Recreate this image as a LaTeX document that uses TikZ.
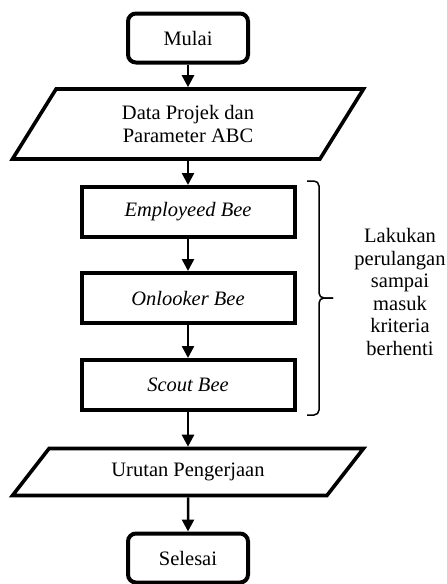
\documentclass[tikz,border=0pt]{standalone}
\usepackage{fontspec}
\setmainfont{Liberation Serif}
\usetikzlibrary{shapes.geometric,arrows.meta}

\tikzset{
  terminal/.style={draw, line width=4pt, rounded corners=8pt, minimum width=120pt, minimum height=49pt},
  io/.style={draw, line width=3.6pt, trapezium, trapezium stretches body, minimum width=351pt, align=center},
  process/.style={draw, line width=4pt, minimum width=213pt, minimum height=50pt},
  flow/.style={line width=2.5pt, -{Triangle[length=12pt,width=12pt]}},
}

\begin{document}
\begin{tikzpicture}[x=1pt, y=-1pt, every node/.style={font=\fontsize{20.5pt}{22.5pt}\selectfont}]
  \useasboundingbox (0,0) rectangle (447,584);
  \node[terminal] (mulai) at (188,38) {Mulai};
  \node[io, trapezium left angle=45, trapezium right angle=135, minimum height=70pt] (data) at (188,124) {Data Projek dan\\Parameter ABC};
  \node[process] (employed) at (188,212) {\textit{Employeed Bee}};
  \node[process] (onlooker) at (188,298) {\textit{Onlooker Bee}};
  \node[process] (scout) at (188,385) {\textit{Scout Bee}};
  \node[io, trapezium left angle=34, trapezium right angle=146, minimum height=47pt] (urutan) at (188,472) {Urutan Pengerjaan};
  \node[terminal] (selesai) at (188,558) {Selesai};

  \draw[flow] (mulai) -- (data);
  \draw[flow] (data) -- (employed);
  \draw[flow] (employed) -- (onlooker);
  \draw[flow] (onlooker) -- (scout);
  \draw[flow] (scout) -- (urutan);
  \draw[flow] (urutan) -- (selesai);

  % kurung kurawal perulangan
  \coordinate (loopTop) at (307,181);
  \coordinate (loopBot) at (307,415);
  \coordinate (loopTip) at (333,298);
  \draw[line width=1.5pt, rounded corners=5pt] (loopTop) -- (319,181) -- (319,298) -- (loopTip);
  \draw[line width=1.5pt, rounded corners=5pt] (loopTip) -- (319,298) -- (319,415) -- (loopBot);
  \node[align=center] (ket) at (400,292) {Lakukan\\perulangan\\sampai\\masuk\\kriteria\\berhenti};
\end{tikzpicture}
\end{document}
